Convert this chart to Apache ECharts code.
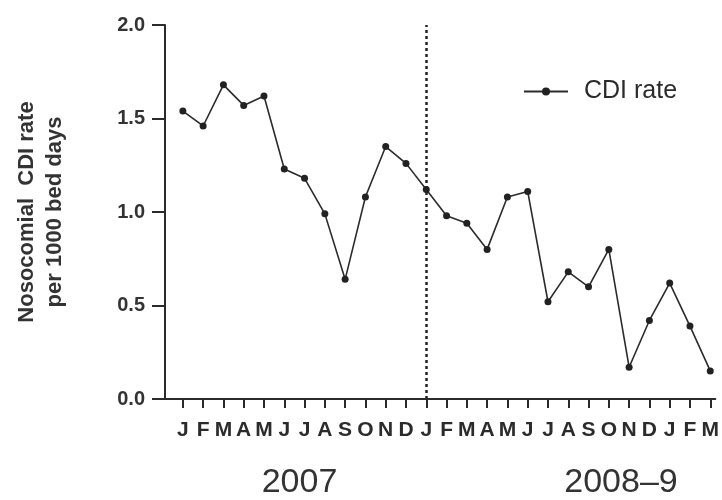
<!DOCTYPE html>
<html>
<head>
<meta charset="utf-8">
<script src="https://cdn.jsdelivr.net/npm/echarts@6/dist/echarts.min.js"></script>
<style>html,body{margin:0;padding:0;background:#fff;}#c{width:722px;height:500px;}</style>
</head>
<body>
<div id="c"></div>
<script>
const monthLabels = ['J','F','M','A','M','J','J','A','S','O','N','D',
                     'J','F','M','A','M','J','J','A','S','O','N','D',
                     'J','F','M'];
const cdiRate = [1.54,1.46,1.68,1.57,1.62,1.23,1.18,0.99,0.64,1.08,1.35,1.26,
                 1.12,0.98,0.94,0.80,1.08,1.11,0.52,0.68,0.60,0.80,0.17,0.42,
                 0.62,0.39,0.15];
const yTicks = [0, 0.5, 1.0, 1.5, 2.0];
const yearLabels = ['2007', '2008–9'];
const yearCenters = [5.75, 21.6];
const dividerMonth = 12;
const seriesName = 'CDI rate';

const monthIdx = monthLabels.map((m, i) => i);
const data = monthIdx.map(i => [i, cdiRate[i]]);
const textColor = '#2b2b2b';
const lineColor = '#2b2b2b';
const font = 'Liberation Sans, Arial, sans-serif';

const chart = echarts.init(document.getElementById('c'));
chart.setOption({
  backgroundColor: '#fff',
  animation: false,
  grid: { left: 165, right: 4, top: 25, bottom: 101, containLabel: false },
  legend: {
    left: 518, top: 74,
    itemWidth: 44, itemHeight: 10, itemGap: 0,
    textStyle: { fontFamily: font, fontSize: 25, color: textColor, padding: [0, 0, 0, 11] },
    data: [seriesName]
  },
  xAxis: [{
    type: 'value', min: -0.88, max: 26.25,
    axisLine: { show: true, onZero: false, lineStyle: { color: lineColor, width: 2 } },
    axisTick: { show: true, customValues: monthIdx, length: 9, lineStyle: { color: lineColor, width: 2 } },
    axisLabel: {
      customValues: monthIdx, margin: 21,
      formatter: v => monthLabels[Math.round(v)],
      fontFamily: font, fontWeight: 'bold', fontSize: 21, color: textColor
    },
    splitLine: { show: false }
  }, {
    type: 'value', min: -0.88, max: 26.25, position: 'bottom',
    axisLine: { show: false }, axisTick: { show: false }, splitLine: { show: false },
    axisLabel: {
      customValues: yearCenters, margin: 67,
      formatter: v => yearLabels[yearCenters.indexOf(v)],
      fontFamily: font, fontSize: 34, color: '#333'
    }
  }],
  yAxis: {
    type: 'value', min: 0, max: 2, interval: 0.5,
    name: 'Nosocomial  CDI rate\nper 1000 bed days',
    nameLocation: 'middle', nameRotate: 90, nameGap: 96,
    nameTextStyle: { fontFamily: font, fontWeight: 'bold', fontSize: 22, lineHeight: 28, color: '#333' },
    axisLine: { show: true, onZero: false, lineStyle: { color: lineColor, width: 2 } },
    axisTick: { show: true, length: 13, lineStyle: { color: lineColor, width: 2 } },
    axisLabel: {
      margin: 20, formatter: v => v.toFixed(1),
      fontFamily: font, fontWeight: 'bold', fontSize: 20, color: '#333'
    },
    splitLine: { show: false }
  },
  series: [{
    name: seriesName, type: 'line', data: data,
    symbol: 'circle', symbolSize: 7,
    lineStyle: { color: lineColor, width: 1.6 },
    itemStyle: { color: '#222' },
    markLine: {
      silent: true, symbol: 'none', label: { show: false },
      lineStyle: { color: '#222', width: 2.5, type: [3, 3] },
      data: [{ xAxis: dividerMonth }]
    }
  }]
});
</script>
</body>
</html>
